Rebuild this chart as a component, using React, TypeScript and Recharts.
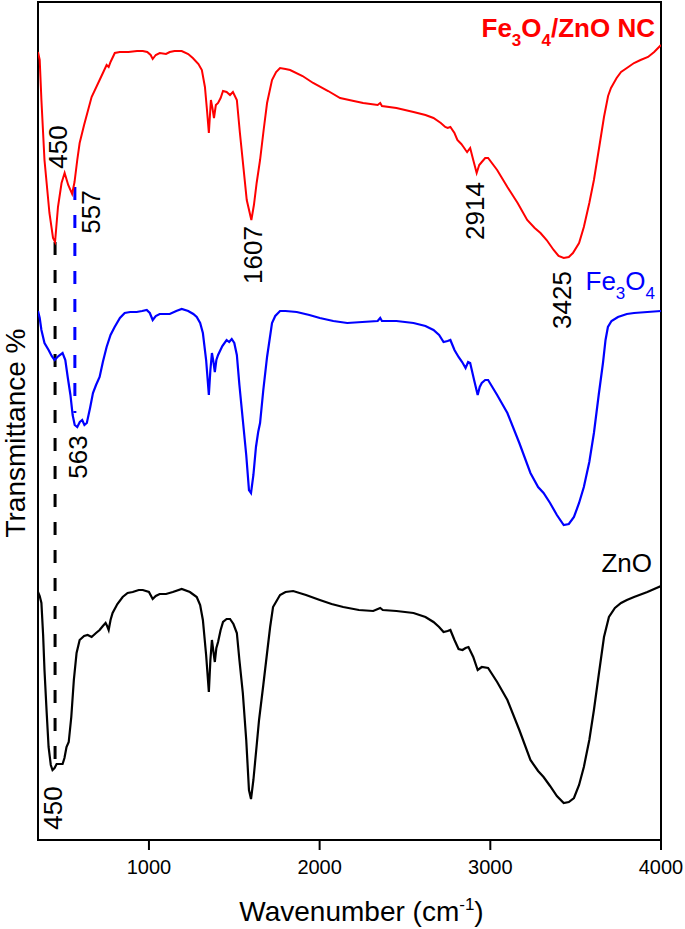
import React from 'react';
import { LineChart, Line, XAxis, YAxis, ReferenceArea, ReferenceLine, ReferenceDot } from 'recharts';

const FONT = '"Liberation Sans", Arial, Helvetica, sans-serif';

// Fe3O4/ZnO NC (red)
const wnNC = [350,360,370,388,417,438,450,467,488,506,527,550,564,580,594,620,664,711,752,764,775,800,829,880,930,964,990,1010,1022,1040,1063,1100,1122,1150,1192,1230,1257,1290,1310,1328,1340,1351,1363,1372,1381,1392,1405,1420,1434,1455,1475,1492,1515,1533,1573,1600,1615,1631,1651,1672,1692,1721,1745,1768,1800,1827,1900,1962,2050,2120,2200,2255,2340,2355,2365,2450,2550,2620,2667,2710,2736,2750,2766,2790,2807,2830,2843,2855,2864,2882,2900,2920,2935,2950,2970,2987,3040,3100,3160,3216,3260,3294,3330,3371,3400,3430,3460,3484,3520,3548,3580,3607,3640,3666,3690,3707,3740,3766,3800,3842,3880,3924,3960,4000];
const tNC = [788,780,740,680,627,602,598,633,657,667,655,646,658,680,697,715,743,760,775,773,778,787,788,788,789,789,788,785,781,785,787,786,788,789,789,786,782,776,770,753,730,707,740,732,722,735,737,742,749,748,745,748,740,707,640,620,635,657,680,710,737,760,768,772,771,770,764,757,749,742,739,737,735,737,734,732,728,725,722,717,713,712,713,707,700,696,693,690,688,692,680,667,675,678,682,682,670,653,637,620,612,607,600,590,584,582,583,587,597,613,637,660,695,723,744,752,762,768,772,777,780,783,788,795];

// Fe3O4 (blue)
const wnFe = [350,360,370,388,412,430,447,470,494,510,524,540,553,565,580,595,609,622,636,655,672,690,711,730,752,775,799,830,858,890,928,960,987,1005,1022,1040,1063,1100,1122,1160,1192,1230,1260,1280,1300,1316,1335,1351,1360,1369,1378,1386,1395,1405,1430,1455,1470,1485,1500,1515,1530,1550,1570,1586,1598,1612,1627,1640,1651,1670,1692,1721,1740,1768,1800,1866,1940,2001,2080,2162,2250,2340,2355,2365,2450,2550,2620,2667,2700,2726,2750,2766,2790,2814,2835,2855,2870,2882,2905,2926,2938,2950,2970,2987,3040,3100,3170,3235,3280,3312,3350,3390,3430,3460,3490,3520,3548,3580,3607,3635,3660,3675,3689,3710,3748,3800,3842,3920,4000];
const tFe = [529,522,510,497,490,484,480,484,487,480,463,445,425,415,413,418,420,415,417,432,447,455,463,478,493,505,513,522,527,528,528,529,530,527,520,524,526,526,526,529,531,529,526,523,517,507,480,445,470,487,478,468,480,485,494,500,498,501,497,485,455,420,385,350,347,365,393,408,417,450,483,517,524,529,529,528,525,522,519,517,518,519,522,519,519,517,514,510,505,498,499,500,490,483,478,472,478,477,460,445,453,457,460,460,445,427,397,367,353,347,337,325,315,316,323,337,353,378,407,445,477,500,513,519,523,526,527,528,529];

// ZnO (black)
const wnZn = [350,360,370,380,388,400,412,425,435,447,459,475,494,505,517,530,545,560,576,594,620,641,664,690,711,730,746,755,764,775,787,815,846,875,905,940,964,1000,1022,1040,1063,1100,1140,1192,1240,1280,1300,1316,1335,1351,1360,1369,1378,1386,1395,1405,1420,1434,1455,1475,1495,1515,1530,1550,1570,1586,1598,1612,1633,1645,1670,1692,1710,1727,1768,1800,1845,1920,2001,2070,2138,2230,2314,2355,2370,2450,2550,2620,2667,2700,2726,2750,2766,2790,2814,2837,2855,2872,2900,2926,2950,2987,3040,3100,3170,3235,3280,3312,3350,3390,3430,3460,3490,3520,3548,3580,3607,3635,3666,3695,3730,3766,3800,3842,3920,4000];
const tZn = [248,244,237,205,170,130,93,75,70,72,76,76,76,82,93,98,123,160,187,200,204,205,203,207,210,214,217,214,210,220,227,236,243,247,248,250,250,248,241,244,246,246,248,251,248,243,235,220,185,148,180,200,188,178,192,198,210,218,221,221,216,207,180,147,100,50,41,60,98,120,155,187,213,233,245,248,249,245,240,236,233,230,229,232,230,229,227,223,218,213,208,209,210,200,191,190,192,193,183,170,173,172,158,140,110,80,69,63,54,44,37,38,42,55,73,100,130,165,203,223,232,237,240,243,248,254];

const xTicks = [1000, 2000, 3000, 4000];

// Peak annotations: [label, wavenumber position, transmittance position]
const peakLabels: [string, number, number][] = [
  ['450', 467, 693],
  ['557', 660, 628],
  ['1607', 1610, 585],
  ['2914', 2910, 629],
  ['3425', 3420, 540],
  ['563', 584, 383],
  ['450', 438, 32],
];

const toPts = (w: number[], t: number[]) => w.map((x, i) => ({ w: x, t: t[i] }));
const dataNC = toPts(wnNC, tNC);
const dataFe = toPts(wnFe, tFe);
const dataZn = toPts(wnZn, tZn);

const rotText = (text: string) => (p: any) => (
  <text
    x={p.cx}
    y={p.cy}
    transform={`rotate(-90 ${p.cx} ${p.cy})`}
    textAnchor="middle"
    dominantBaseline="central"
    fontSize={26}
    fill="#000"
    fontFamily={FONT}
  >
    {text}
  </text>
);

const seriesLabel = (kind: 'nc' | 'fe' | 'zn') => (p: any) => {
  if (kind === 'zn') {
    return (
      <text x={p.cx} y={p.cy} textAnchor="end" fontSize={26} fill="#000" fontFamily={FONT}>ZnO</text>
    );
  }
  const color = kind === 'nc' ? '#ff0000' : '#0000ff';
  return (
    <text x={p.cx} y={p.cy} textAnchor="end" fontSize={26} fill={color} fontFamily={FONT} fontWeight={kind === 'nc' ? 'bold' : 'normal'}>
      Fe
      <tspan fontSize={17} dy={9}>3</tspan>
      <tspan dy={-9}>O</tspan>
      <tspan fontSize={17} dy={9}>4</tspan>
      <tspan dy={-9}>{kind === 'nc' ? '/ZnO NC' : ''}</tspan>
    </text>
  );
};

export default function App() {
  return (
    <div style={{ position: 'absolute', left: 0, top: 0, background: '#fff' }}>
      <LineChart width={685} height={929} margin={{ top: 2, right: 24, bottom: 0, left: 0 }}>
        <XAxis
          dataKey="w"
          type="number"
          domain={[350, 4000]}
          ticks={xTicks}
          allowDataOverflow
          height={89}
          tickSize={10}
          tickMargin={10}
          axisLine={{ stroke: '#000', strokeWidth: 2 }}
          tickLine={{ stroke: '#000', strokeWidth: 2 }}
          tick={{ fontSize: 20, fill: '#000', fontFamily: FONT }}
          label={{
            content: (p: any) => {
              const vb = p.viewBox;
              return (
                <text x={vb.x + vb.width / 2 + 12} y={921} textAnchor="middle" fontSize={28} fill="#000" fontFamily={FONT}>
                  Wavenumber (cm
                  <tspan fontSize={17} dy={-11}>-1</tspan>
                  <tspan dy={11}>)</tspan>
                </text>
              );
            },
          }}
        />
        <YAxis
          type="number"
          domain={[0, 838]}
          width={38}
          tick={false}
          tickLine={false}
          axisLine={false}
          label={{
            content: (p: any) => {
              const vb = p.viewBox;
              const cx = 15;
              const cy = vb.y + vb.height / 2 + 12;
              return (
                <text x={cx} y={cy} transform={`rotate(-90 ${cx} ${cy})`} textAnchor="middle" dominantBaseline="central" fontSize={28} fill="#000" fontFamily={FONT}>
                  Transmittance %
                </text>
              );
            },
          }}
        />
        <ReferenceArea x1={350} x2={4000} y1={0} y2={838} fill="none" stroke="#000" strokeWidth={2} fillOpacity={0} />
        <ReferenceLine segment={[{ x: 450, y: 598 }, { x: 450, y: 77 }]} stroke="#000" strokeWidth={3} strokeDasharray="13 15" />
        <ReferenceLine segment={[{ x: 566, y: 653 }, { x: 566, y: 427 }]} stroke="#0000ff" strokeWidth={3} strokeDasharray="13 15" />
        <Line data={dataNC} dataKey="t" type="linear" stroke="#ff0000" strokeWidth={2} dot={false} isAnimationActive={false} />
        <Line data={dataFe} dataKey="t" type="linear" stroke="#0000ff" strokeWidth={2.2} dot={false} isAnimationActive={false} />
        <Line data={dataZn} dataKey="t" type="linear" stroke="#000" strokeWidth={2.2} dot={false} isAnimationActive={false} />
        {peakLabels.map(([txt, w, t], i) => (
          <ReferenceDot key={i} x={w} y={t} r={0} shape={rotText(txt)} />
        ))}
        <ReferenceDot x={3965} y={803} r={0} shape={seriesLabel('nc')} />
        <ReferenceDot x={3965} y={550} r={0} shape={seriesLabel('fe')} />
        <ReferenceDot x={3947} y={268} r={0} shape={seriesLabel('zn')} />
      </LineChart>
    </div>
  );
}
